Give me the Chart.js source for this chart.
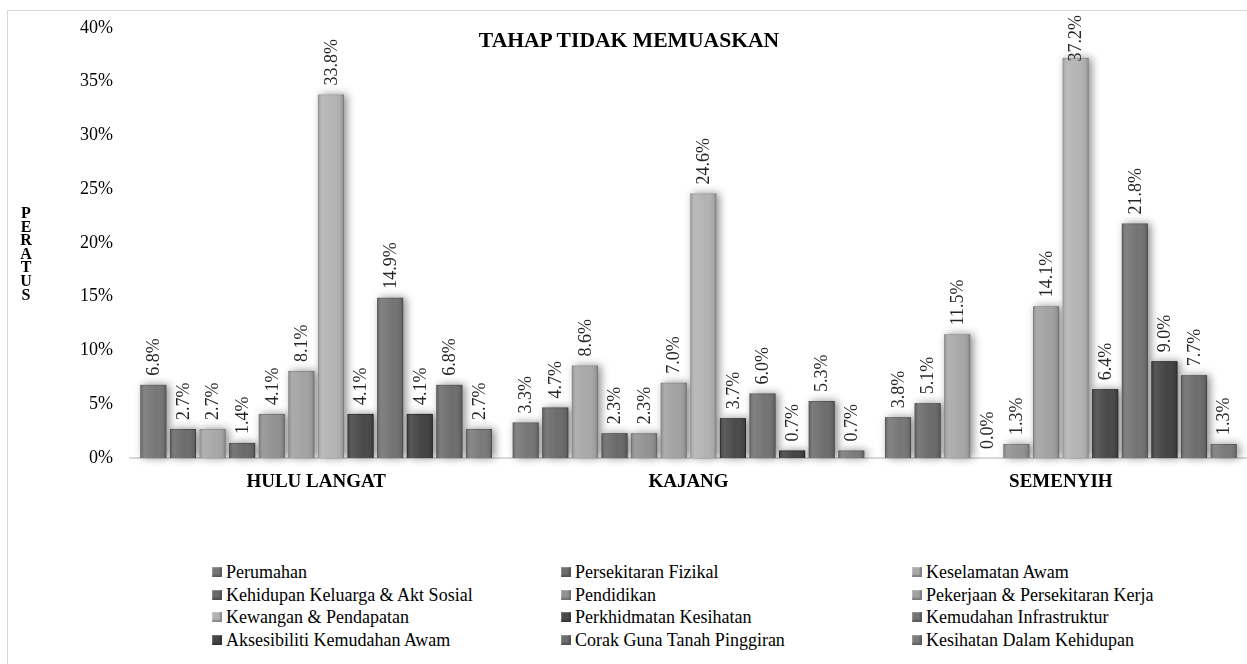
<!DOCTYPE html>
<html>
<head>
<meta charset="utf-8">
<title>Tahap Tidak Memuaskan</title>
<script src="https://cdn.jsdelivr.net/npm/chart.js@4"></script>
<style>
    body { margin: 0; background: #fff; font-family: "Liberation Serif", "DejaVu Serif", "Times New Roman", Times, serif; color: #000; }
    #wrap { position: relative; width: 1247px; height: 664px; overflow: hidden; }
    #frame { position: absolute; left: 7px; top: 10px; width: 1300px; height: 700px; border-left: 1px solid #d9d9d9; border-top: 1px solid #d9d9d9; }
    #chartBox { position: absolute; left: 0; top: 0; width: 1247px; height: 500px; }
    #title { position: absolute; left: 379px; top: 28px; width: 500px; text-align: center; font-weight: bold; font-size: 21.6px; line-height: 24px; }
    #yTitle { position: absolute; left: 17px; top: 206px; width: 18px; text-align: center; font-weight: bold; font-size: 16px; line-height: 13.6px; }
    #legend { position: absolute; left: 212px; top: 561px; display: grid; grid-template-columns: 349px 351px 330px; }
    .legend-item { height: 22.6px; line-height: 22.6px; font-size: 18px; white-space: nowrap; }
    .legend-box { display: inline-block; width: 10px; height: 10px; margin-right: 4px; vertical-align: 1px; box-shadow: inset -2px -2px 2px rgba(0,0,0,0.25), inset 1px 1px 1px rgba(255,255,255,0.25); }
</style>
</head>
<body>
<div id="wrap">
    <div id="frame"></div>
    <div id="chartBox"><canvas id="tidakMemuaskanChart"></canvas></div>
    <div id="title">TAHAP TIDAK MEMUASKAN</div>
    <div id="yTitle"></div>
    <div id="legend"></div>
</div>

<script>
// Data (percent)
const categories = ['HULU LANGAT', 'KAJANG', 'SEMENYIH'];

const seriesNames = [
    'Perumahan',
    'Persekitaran Fizikal',
    'Keselamatan Awam',
    'Kehidupan Keluarga & Akt Sosial',
    'Pendidikan',
    'Pekerjaan & Persekitaran Kerja',
    'Kewangan & Pendapatan',
    'Perkhidmatan Kesihatan',
    'Kemudahan Infrastruktur',
    'Aksesibiliti Kemudahan Awam',
    'Corak Guna Tanah Pinggiran',
    'Kesihatan Dalam Kehidupan'
];

const huluLangat = [6.8, 2.7, 2.7, 1.4, 4.1, 8.1, 33.8, 4.1, 14.9, 4.1, 6.8, 2.7];
const kajang     = [3.3, 4.7, 8.6, 2.3, 2.3, 7.0, 24.6, 3.7, 6.0, 0.7, 5.3, 0.7];
const semenyih   = [3.8, 5.1, 11.5, 0.0, 1.3, 14.1, 37.2, 6.4, 21.8, 9.0, 7.7, 1.3];

const yTicks = [0, 5, 10, 15, 20, 25, 30, 35, 40];

const seriesColors = [
    '#777777', '#6c6c6c', '#a8a8a8', '#6a6a6a',
    '#929292', '#a2a2a2', '#b3b3b3', '#4a4a4a',
    '#747474', '#444444', '#6e6e6e', '#7b7b7b'
];

const FONT = '"Liberation Serif", "DejaVu Serif", "Times New Roman", Times, serif';

function darker(hex, amt) {
    const v = Math.max(0, parseInt(hex.slice(1, 3), 16) - amt);
    const h = v.toString(16).padStart(2, '0');
    return '#' + h + h + h;
}

function eachBar(chart, fn) {
    chart.data.datasets.forEach((ds, i) => {
        chart.getDatasetMeta(i).data.forEach((bar, j) => fn(bar, ds, i, j));
    });
}

// soft shadow behind bars, shading on top, rotated value labels
const barLabels = {
    id: 'barLabels',
    beforeDatasetsDraw(chart) {
        const c = chart.ctx;
        c.save();
        c.shadowColor = 'rgba(0,0,0,0.45)';
        c.shadowBlur = 9;
        c.shadowOffsetX = 3;
        c.shadowOffsetY = 0;
        eachBar(chart, (bar, ds, i) => {
            if (bar.base - bar.y < 1) return;
            c.fillStyle = seriesColors[i];
            c.fillRect(bar.x - bar.width / 2, bar.y, bar.width, bar.base - bar.y);
        });
        c.restore();
    },
    afterDatasetsDraw(chart) {
        const c = chart.ctx;
        c.save();
        eachBar(chart, (bar) => {
            const h = bar.base - bar.y;
            if (h < 1) return;
            const x0 = bar.x - bar.width / 2;
            const g = c.createLinearGradient(x0, 0, x0 + bar.width, 0);
            g.addColorStop(0, 'rgba(0,0,0,0.10)');
            g.addColorStop(0.15, 'rgba(255,255,255,0.10)');
            g.addColorStop(0.6, 'rgba(255,255,255,0)');
            g.addColorStop(0.88, 'rgba(0,0,0,0.06)');
            g.addColorStop(1, 'rgba(0,0,0,0.22)');
            c.fillStyle = g;
            c.fillRect(x0, bar.y, bar.width, h);
        });

        c.font = '18px ' + FONT;
        c.fillStyle = '#262626';
        c.textAlign = 'left';
        c.textBaseline = 'middle';
        eachBar(chart, (bar, ds, i, j) => {
            const txt = ds.data[j].toFixed(1) + '%';
            const w = c.measureText(txt).width;
            let start = bar.y - 9;
            if (start - w < 15) start = 15 + w;
            c.save();
            c.translate(bar.x + 1, start);
            c.rotate(-Math.PI / 2);
            c.fillText(txt, 0, 0);
            c.restore();
        });
        c.restore();
    }
};

const datasets = seriesNames.map((name, i) => ({
    label: name,
    data: [huluLangat[i], kajang[i], semenyih[i]],
    backgroundColor: seriesColors[i],
    borderColor: darker(seriesColors[i], 25),
    borderWidth: 1,
    categoryPercentage: 0.954,
    barPercentage: 0.88
}));

new Chart(document.getElementById('tidakMemuaskanChart'), {
    type: 'bar',
    data: { labels: categories, datasets: datasets },
    options: {
        responsive: true,
        maintainAspectRatio: false,
        animation: false,
        layout: { padding: { top: 20, left: 0, right: 0, bottom: 0 } },
        plugins: {
            legend: { display: false },
            title: { display: false },
            tooltip: { enabled: false }
        },
        scales: {
            x: {
                grid: { display: false, drawTicks: false },
                border: { display: true, color: '#d9d9d9', width: 2 },
                ticks: { padding: 13, color: '#000', font: { family: FONT, size: 19, weight: 'bold' } },
                afterFit(scale) { scale.height = 42; }
            },
            y: {
                min: 0,
                max: 40,
                afterBuildTicks(scale) { scale.ticks = yTicks.map(v => ({ value: v })); },
                ticks: {
                    callback: v => v + '%',
                    padding: 17,
                    color: '#000',
                    font: { family: FONT, size: 18 }
                },
                grid: { display: false, drawTicks: false },
                border: { display: false },
                afterFit(scale) { scale.width = 130; }
            }
        }
    },
    plugins: [barLabels]
});

// y axis title, stacked letters
document.getElementById('yTitle').innerHTML = 'PERATUS'.split('').join('<br>');

// legend in 3 columns
document.getElementById('legend').innerHTML = seriesNames.map((name, i) => `
    <div class="legend-item"><span class="legend-box" style="background:${seriesColors[i]}"></span>${name}</div>
`).join('');
</script>
</body>
</html>
